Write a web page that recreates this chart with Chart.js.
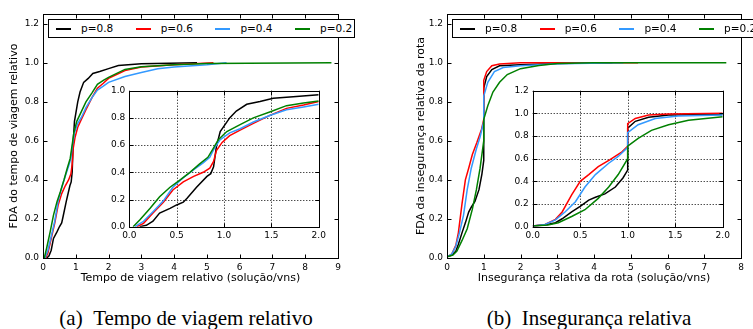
<!DOCTYPE html>
<html>
<head>
<meta charset="utf-8">
<script src="https://cdn.jsdelivr.net/npm/chart.js@4.4.0/dist/chart.umd.min.js"></script>
<style>
  body { margin: 0; width: 753px; height: 329px; position: relative; overflow: hidden; background: #fff; }
  canvas { position: absolute; }
  .legenda { position: absolute; top: 19px; height: 17px; border: 1px solid #000; background: #fff;
             font-family: 'DejaVu Sans', sans-serif; font-size: 10.5px; }
  .legenda span { position: absolute; top: 2px; line-height: 13px; white-space: nowrap; }
  .legenda i { position: absolute; top: 6px; height: 2px; width: 15px; }
  .titulo { position: absolute; top: 308px; font-family: 'Liberation Serif', serif; font-size: 21px;
            line-height: 21px; white-space: nowrap; transform: translateX(-50%); }
</style>
</head>
<body>
<canvas id="mainA" width="376" height="290" style="left:0;top:0"></canvas>
<canvas id="mainB" width="376" height="290" style="left:377px;top:0"></canvas>
<canvas id="insetA" width="235" height="165" style="left:95px;top:80px"></canvas>
<canvas id="insetB" width="235" height="165" style="left:500px;top:80px"></canvas>
<div class="legenda" id="legA" style="left:48px;width:305px"></div>
<div class="legenda" id="legB" style="left:452px;width:320px"></div>
<div class="titulo" style="left:186px">(a)&nbsp;&nbsp;Tempo de viagem relativo</div>
<div class="titulo" style="left:589px">(b)&nbsp;&nbsp;Insegurança relativa</div>
<script>
const rotulos = ['p=0.8', 'p=0.6', 'p=0.4', 'p=0.2'];
const cores = ['#000000', '#ff0000', '#3399ff', '#008000'];

// (a) tempo de viagem relativo
const tempoX08 = [0.11, 0.18, 0.25, 0.32, 0.43, 0.5, 0.57, 0.61, 0.71, 0.82, 0.86, 0.89, 0.92, 0.96, 1.0, 1.06, 1.13, 1.24, 1.38, 1.52, 1.73, 2.0, 2.3, 3.0, 4.7];
const tempoY08 = [0, 0.01, 0.04, 0.10, 0.135, 0.16, 0.18, 0.21, 0.29, 0.37, 0.39, 0.44, 0.59, 0.70, 0.74, 0.80, 0.85, 0.90, 0.92, 0.945, 0.955, 0.97, 0.986, 0.995, 1.0];
const tempoX06 = [0.08, 0.15, 0.25, 0.36, 0.46, 0.57, 0.68, 0.78, 0.85, 0.89, 0.92, 0.98, 1.06, 1.17, 1.31, 1.49, 1.66, 1.84, 2.0, 2.5, 3.0, 4.0, 5.2];
const tempoY06 = [0, 0.025, 0.10, 0.18, 0.27, 0.33, 0.37, 0.40, 0.43, 0.48, 0.56, 0.62, 0.67, 0.71, 0.76, 0.82, 0.87, 0.895, 0.92, 0.96, 0.978, 0.99, 1.0];
const tempoX04 = [0.06, 0.15, 0.25, 0.36, 0.46, 0.57, 0.68, 0.78, 0.85, 0.90, 0.96, 1.06, 1.17, 1.31, 1.49, 1.66, 1.84, 2.0, 2.5, 3.0, 3.5, 4.0, 5.0, 5.6];
const tempoY04 = [0, 0.04, 0.11, 0.19, 0.29, 0.36, 0.42, 0.47, 0.51, 0.58, 0.64, 0.69, 0.72, 0.77, 0.82, 0.86, 0.88, 0.90, 0.93, 0.95, 0.97, 0.978, 0.99, 1.0];
const tempoX02 = [0.04, 0.11, 0.22, 0.32, 0.43, 0.53, 0.64, 0.74, 0.83, 0.89, 0.94, 1.03, 1.17, 1.31, 1.49, 1.66, 1.84, 2.0, 2.5, 3.0, 4.0, 5.0, 8.8];
const tempoY02 = [0, 0.05, 0.135, 0.22, 0.29, 0.34, 0.40, 0.46, 0.51, 0.58, 0.64, 0.70, 0.75, 0.80, 0.845, 0.89, 0.91, 0.925, 0.966, 0.98, 0.99, 0.997, 1.0];

// (b) insegurança relativa
const insegX08 = [0, 0.13, 0.24, 0.31, 0.41, 0.5, 0.59, 0.66, 0.76, 0.87, 0.95, 1.0, 1.0, 1.08, 1.22, 1.43, 2.0, 3.0, 4.5];
const insegY08 = [0.006, 0.015, 0.035, 0.07, 0.13, 0.18, 0.235, 0.26, 0.29, 0.35, 0.43, 0.50, 0.87, 0.93, 0.965, 0.985, 0.99, 0.997, 1.0];
const insegX06 = [0, 0.13, 0.24, 0.31, 0.41, 0.5, 0.59, 0.69, 0.81, 0.94, 1.0, 1.0, 1.08, 1.22, 1.43, 2.0, 5.2];
const insegY06 = [0.006, 0.02, 0.065, 0.13, 0.28, 0.40, 0.46, 0.53, 0.59, 0.66, 0.71, 0.91, 0.955, 0.985, 0.994, 1.0, 1.0];
const insegX04 = [0, 0.13, 0.24, 0.34, 0.45, 0.55, 0.66, 0.80, 0.90, 1.0, 1.0, 1.11, 1.29, 1.53, 2.0, 3.0, 4.8];
const insegY04 = [0.006, 0.02, 0.06, 0.13, 0.22, 0.35, 0.46, 0.56, 0.62, 0.70, 0.83, 0.90, 0.955, 0.976, 0.985, 0.995, 1.0];
const insegX02 = [0, 0.16, 0.27, 0.41, 0.55, 0.69, 0.80, 0.90, 1.0, 1.0, 1.11, 1.25, 1.43, 1.64, 2.0, 2.5, 3.0, 4.0, 7.6];
const insegY02 = [0.006, 0.015, 0.035, 0.09, 0.15, 0.25, 0.35, 0.46, 0.60, 0.71, 0.78, 0.85, 0.90, 0.94, 0.97, 0.986, 0.997, 1.0, 1.0];

const ticksXA = [0, 1, 2, 3, 4, 5, 6, 7, 8, 9];
const ticksXB = [0, 1, 2, 3, 4, 5, 6, 7, 8];
const ticksY = [0, 0.2, 0.4, 0.6, 0.8, 1.0, 1.2];
const ticksXInset = [0, 0.5, 1.0, 1.5, 2.0];
const ticksYInsetA = [0, 0.2, 0.4, 0.6, 0.8, 1.0];

Chart.defaults.font.family = "'DejaVu Sans', sans-serif";
Chart.defaults.color = '#000';

const tempo = [[tempoX08, tempoY08], [tempoX06, tempoY06], [tempoX04, tempoY04], [tempoX02, tempoY02]];
const inseg = [[insegX08, insegY08], [insegX06, insegY06], [insegX04, insegY04], [insegX02, insegY02]];

function conjuntos(series) {
  return series.map((s, i) => ({
    label: rotulos[i],
    data: s[0].map((x, j) => ({ x: x, y: s[1][j] })),
    borderColor: cores[i],
    borderWidth: 1.5,
    pointRadius: 0,
    fill: false,
    tension: 0,
    order: 4 - i
  }));
}

function linha(ctx, x1, y1, x2, y2) {
  ctx.beginPath(); ctx.moveTo(x1, y1); ctx.lineTo(x2, y2); ctx.stroke();
}

// moldura estilo matplotlib: caixa, ticks para dentro, grade pontilhada
const moldura = {
  id: 'moldura',
  beforeDraw(chart) {
    const a = chart.chartArea, ctx = chart.ctx;
    ctx.save();
    ctx.fillStyle = '#fff';
    ctx.fillRect(a.left, a.top, a.right - a.left, a.bottom - a.top);
    ctx.restore();
  },
  beforeDatasetsDraw(chart, args, opts) {
    if (!opts.grade) return;
    const { ctx, chartArea: a, scales } = chart;
    ctx.save();
    ctx.strokeStyle = '#000';
    ctx.lineWidth = 1;
    ctx.setLineDash([1, 2]);
    scales.x.ticks.forEach(t => {
      const p = Math.round(scales.x.getPixelForValue(t.value)) + 0.5;
      linha(ctx, p, a.top, p, a.bottom);
    });
    scales.y.ticks.forEach(t => {
      const p = Math.round(scales.y.getPixelForValue(t.value)) + 0.5;
      linha(ctx, a.left, p, a.right, p);
    });
    ctx.restore();
  },
  afterDatasetsDraw(chart) {
    const { ctx, chartArea: a, scales } = chart;
    ctx.save();
    ctx.strokeStyle = '#000';
    ctx.lineWidth = 1;
    ctx.setLineDash([]);
    const l = Math.round(a.left) + 0.5, r = Math.round(a.right) + 0.5;
    const t = Math.round(a.top) + 0.5, b = Math.round(a.bottom) + 0.5;
    ctx.strokeRect(l, t, r - l, b - t);
    scales.x.ticks.forEach(k => {
      const p = Math.round(scales.x.getPixelForValue(k.value)) + 0.5;
      linha(ctx, p, b, p, b - 4);
      linha(ctx, p, t, p, t + 4);
    });
    scales.y.ticks.forEach(k => {
      const p = Math.round(scales.y.getPixelForValue(k.value)) + 0.5;
      linha(ctx, l, p, l + 4, p);
      linha(ctx, r, p, r - 4, p);
    });
    ctx.restore();
  }
};

function grafico(id, series, c) {
  return new Chart(document.getElementById(id), {
    type: 'line',
    data: { datasets: conjuntos(series) },
    plugins: [moldura],
    options: {
      responsive: false,
      animation: false,
      devicePixelRatio: 1,
      layout: { padding: c.padding },
      plugins: {
        legend: { display: false },
        tooltip: { enabled: false },
        moldura: { grade: c.grade }
      },
      scales: {
        x: {
          type: 'linear', min: c.xMin, max: c.xMax,
          grid: { display: false, drawTicks: false }, border: { display: false },
          afterBuildTicks: s => { s.ticks = c.xTicks.map(v => ({ value: v })); },
          afterFit: s => { s.height = c.xAltura; },
          ticks: { padding: 4, font: { size: 9 }, maxRotation: 0, autoSkip: false,
                   callback: v => Number(v).toFixed(c.xDec) },
          title: c.xTitulo ? { display: true, text: c.xTitulo, font: { size: 11 }, padding: { top: 0, bottom: 5 } }
                           : { display: false }
        },
        y: {
          type: 'linear', min: 0, max: c.yMax,
          grid: { display: false, drawTicks: false }, border: { display: false },
          afterBuildTicks: s => { s.ticks = c.yTicks.map(v => ({ value: v })); },
          afterFit: s => { s.width = c.yLargura; },
          ticks: { padding: 4, font: { size: 9 }, autoSkip: false,
                   callback: v => Number(v).toFixed(1) },
          title: c.yTitulo ? { display: true, text: c.yTitulo, font: { size: 11 }, padding: { top: c.yTitPad, bottom: 0 } }
                           : { display: false }
        }
      }
    }
  });
}

grafico('mainA', tempo, {
  padding: { left: 0, top: 14, right: 38, bottom: 0 },
  xMin: 0, xMax: 9, xTicks: ticksXA, xDec: 0, xAltura: 32,
  yMax: 1.25, yTicks: ticksY, yLargura: 43, yTitPad: 8,
  xTitulo: 'Tempo de viagem relativo (solução/vns)',
  yTitulo: 'FDA do tempo de viagem relativo'
});

grafico('mainB', inseg, {
  padding: { left: 0, top: 14, right: 12, bottom: 0 },
  xMin: 0, xMax: 8, xTicks: ticksXB, xDec: 0, xAltura: 32,
  yMax: 1.25, yTicks: ticksY, yLargura: 70, yTitPad: 38,
  xTitulo: 'Insegurança relativa da rota (solução/vns)',
  yTitulo: 'FDA da insegurança relativa da rota'
});

grafico('insetA', tempo, {
  padding: { left: 0, top: 10.7, right: 11.3, bottom: 0 },
  xMin: 0, xMax: 2, xTicks: ticksXInset, xDec: 1, xAltura: 18.3,
  yMax: 1.0, yTicks: ticksYInsetA, yLargura: 34.3, grade: true
});

grafico('insetB', inseg, {
  padding: { left: 0, top: 10.7, right: 12.3, bottom: 0 },
  xMin: 0, xMax: 2, xTicks: ticksXInset, xDec: 1, xAltura: 18.3,
  yMax: 1.2, yTicks: ticksY, yLargura: 32.7, grade: true
});

// legendas dentro dos eixos
function legenda(id) {
  const el = document.getElementById(id);
  rotulos.forEach((r, i) => {
    const item = document.createElement('span');
    item.style.left = (7 + i * 79.7) + 'px';
    item.innerHTML = '<i style="background:' + cores[i] + ';left:0"></i>' +
                     '<b style="font-weight:normal;margin-left:25px">' + r + '</b>';
    el.appendChild(item);
  });
}
legenda('legA');
legenda('legB');
</script>
</body>
</html>
